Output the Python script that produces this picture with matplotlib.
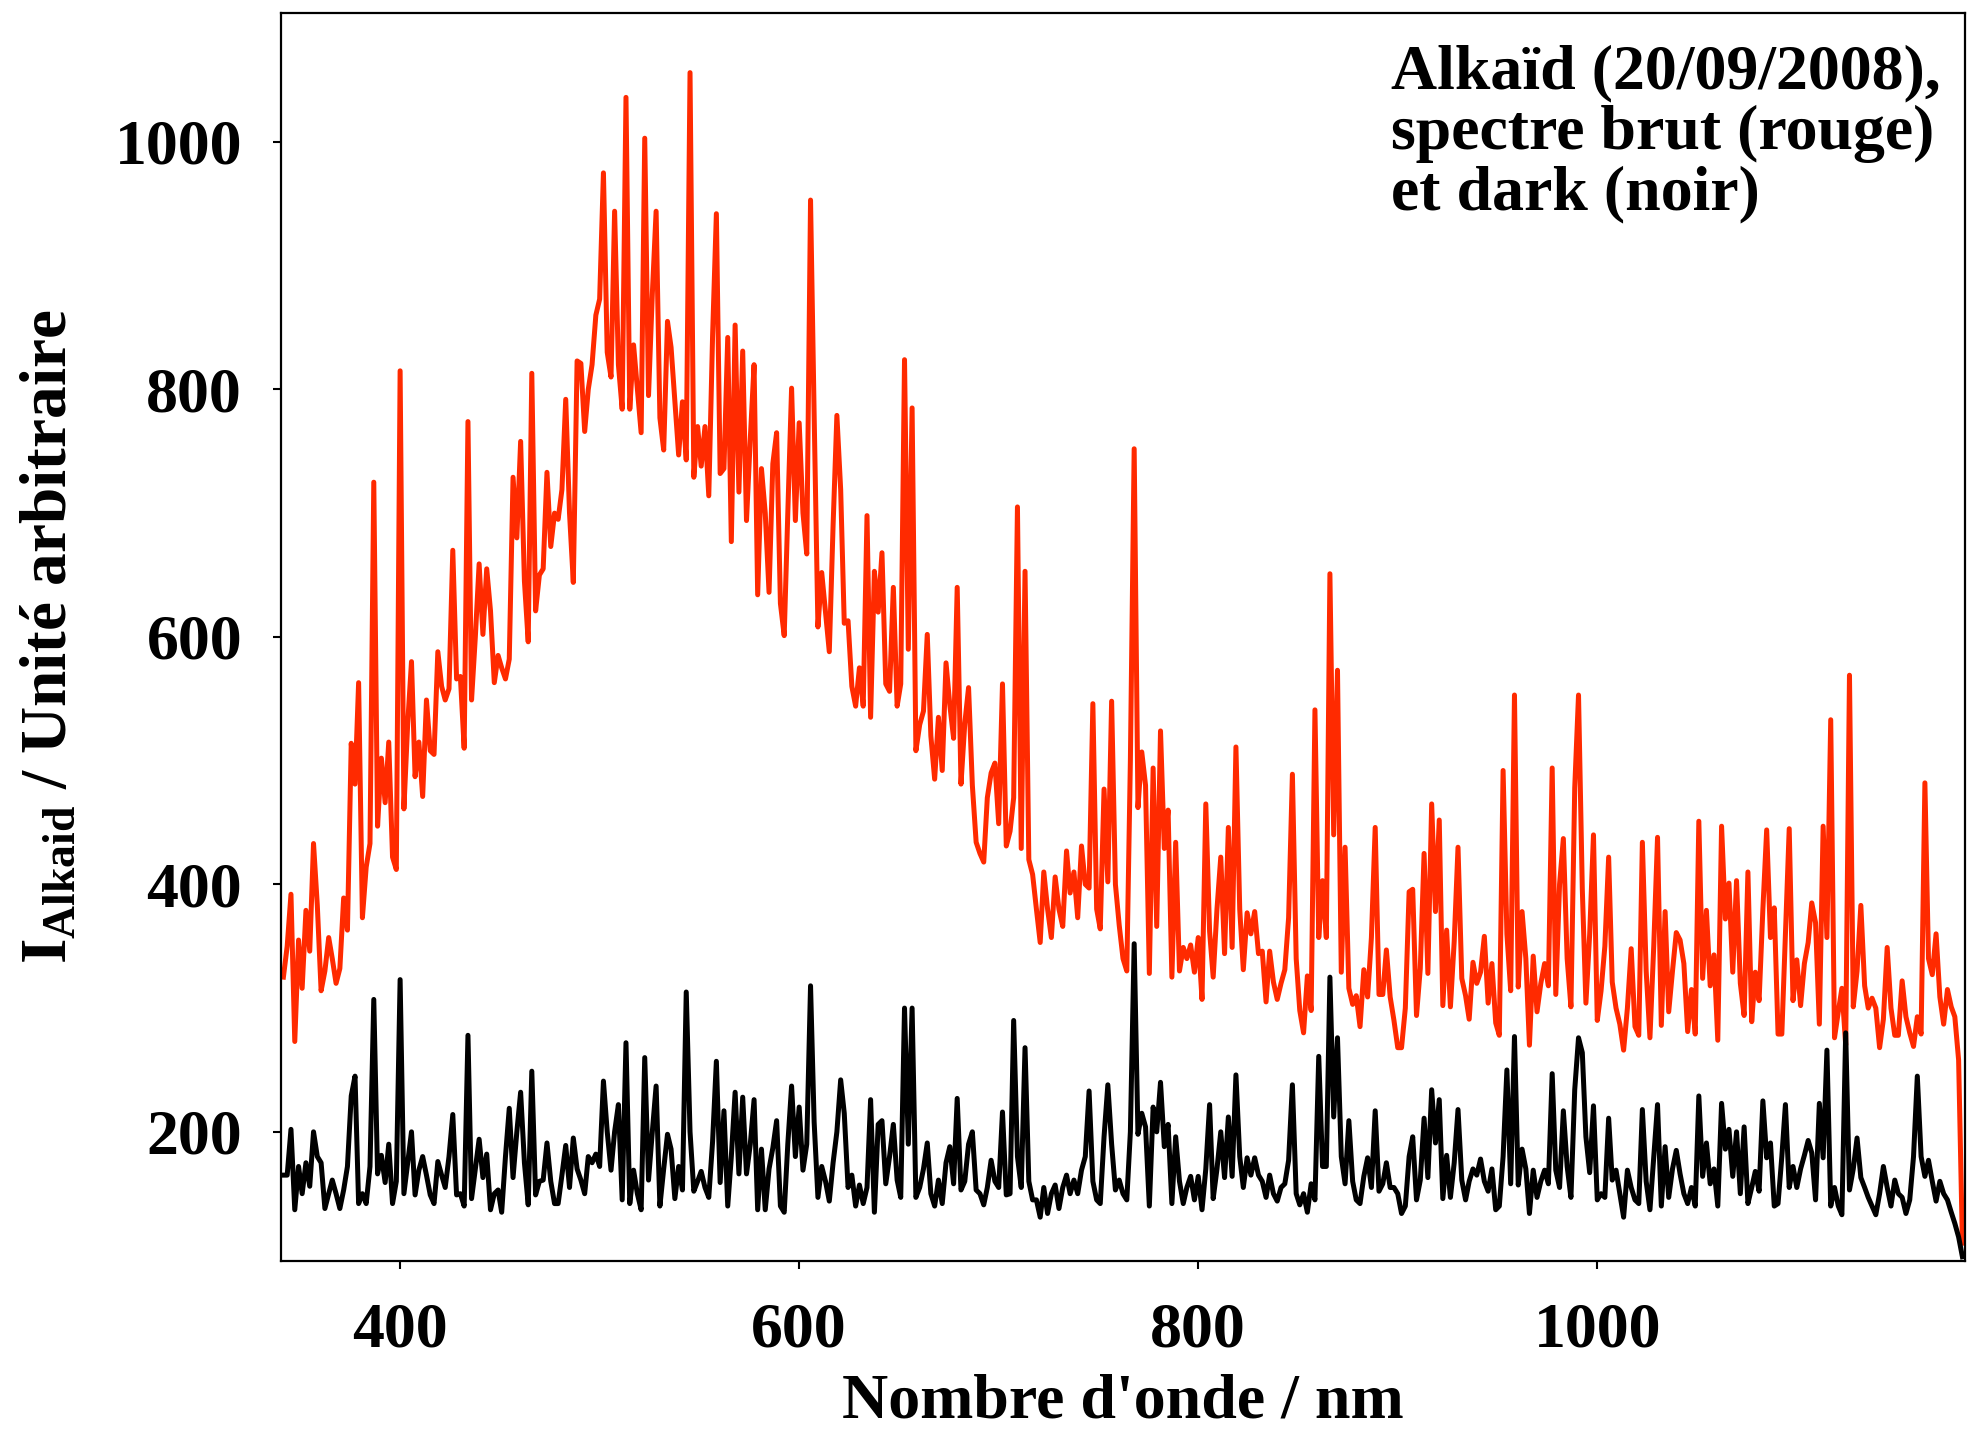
import matplotlib
matplotlib.use("Agg")
import matplotlib.pyplot as plt

plt.rcParams['font.family'] = ['Liberation Serif', 'DejaVu Serif']
plt.rcParams['font.weight'] = 'bold'
plt.rcParams['mathtext.fontset'] = 'custom'
plt.rcParams['mathtext.rm'] = 'Liberation Serif:bold'
plt.rcParams['mathtext.bf'] = 'Liberation Serif:bold'
plt.rcParams['mathtext.it'] = 'Liberation Serif:bold'

# Wavelength samples (nm)
wavelength_nm = [
    341.5, 343.4, 345.3, 347.2, 349.1, 350.9, 352.8, 354.7, 356.6, 358.5,
    360.4, 362.3, 364.2, 366.0, 367.9, 369.8, 371.7, 373.6, 375.5, 377.4,
    379.2, 381.1, 383.0, 384.9, 386.8, 388.7, 390.6, 392.5, 394.3, 396.2,
    398.1, 400.0, 401.9, 403.8, 405.7, 407.5, 409.4, 411.3, 413.2, 415.1,
    417.0, 418.9, 420.8, 422.6, 424.5, 426.4, 428.3, 430.2, 432.1, 434.0,
    435.8, 437.7, 439.6, 441.5, 443.4, 445.3, 447.2, 449.1, 450.9, 452.8,
    454.7, 456.6, 458.5, 460.4, 462.3, 464.2, 466.0, 467.9, 469.8, 471.7,
    473.6, 475.5, 477.4, 479.2, 481.1, 483.0, 484.9, 486.8, 488.7, 490.6,
    492.5, 494.3, 496.2, 498.1, 500.0, 501.9, 503.8, 505.7, 507.5, 509.4,
    511.3, 513.2, 515.1, 517.0, 518.9, 520.8, 522.6, 524.5, 526.4, 528.3,
    530.2, 532.1, 534.0, 535.8, 537.7, 539.6, 541.5, 543.4, 545.3, 547.2,
    549.1, 550.9, 552.8, 554.7, 556.6, 558.5, 560.4, 562.3, 564.2, 566.0,
    567.9, 569.8, 571.7, 573.6, 575.5, 577.4, 579.2, 581.1, 583.0, 584.9,
    586.8, 588.7, 590.6, 592.5, 594.3, 596.2, 598.1, 600.0, 601.9, 603.8,
    605.7, 607.5, 609.4, 611.3, 613.2, 615.1, 617.0, 618.9, 620.8, 622.6,
    624.5, 626.4, 628.3, 630.2, 632.1, 634.0, 635.8, 637.7, 639.6, 641.5,
    643.4, 645.3, 647.2, 649.1, 650.9, 652.8, 654.7, 656.6, 658.5, 660.4,
    662.3, 664.2, 666.0, 667.9, 669.8, 671.7, 673.6, 675.5, 677.4, 679.2,
    681.1, 683.0, 684.9, 686.8, 688.7, 690.6, 692.5, 694.3, 696.2, 698.1,
    700.0, 701.9, 703.8, 705.7, 707.5, 709.4, 711.3, 713.2, 715.1, 717.0,
    718.9, 720.8, 722.6, 724.5, 726.4, 728.3, 730.2, 732.1, 734.0, 735.8,
    737.7, 739.6, 741.5, 743.4, 745.3, 747.2, 749.1, 750.9, 752.8, 754.7,
    756.6, 758.5, 760.4, 762.3, 764.2, 766.0, 767.9, 769.8, 771.7, 773.6,
    775.5, 777.4, 779.2, 781.1, 783.0, 784.9, 786.8, 788.7, 790.6, 792.5,
    794.3, 796.2, 798.1, 800.0, 801.9, 803.8, 805.7, 807.5, 809.4, 811.3,
    813.2, 815.1, 817.0, 818.9, 820.8, 822.6, 824.5, 826.4, 828.3, 830.2,
    832.1, 834.0, 835.8, 837.7, 839.6, 841.5, 843.4, 845.3, 847.2, 849.1,
    850.9, 852.8, 854.7, 856.6, 858.5, 860.4, 862.3, 864.2, 866.0, 867.9,
    869.8, 871.7, 873.6, 875.5, 877.4, 879.2, 881.1, 883.0, 884.9, 886.8,
    888.7, 890.6, 892.5, 894.3, 896.2, 898.1, 900.0, 901.9, 903.8, 905.7,
    907.5, 909.4, 911.3, 913.2, 915.1, 917.0, 918.9, 920.8, 922.6, 924.5,
    926.4, 928.3, 930.2, 932.1, 934.0, 935.8, 937.7, 939.6, 941.5, 943.4,
    945.3, 947.2, 949.1, 950.9, 952.8, 954.7, 956.6, 958.5, 960.4, 962.3,
    964.2, 966.0, 967.9, 969.8, 971.7, 973.6, 975.5, 977.4, 979.2, 981.1,
    983.0, 984.9, 986.8, 988.7, 990.6, 992.5, 994.3, 996.2, 998.1, 1000.0,
    1001.9, 1003.8, 1005.7, 1007.5, 1009.4, 1011.3, 1013.2, 1015.1, 1017.0, 1018.9,
    1020.8, 1022.6, 1024.5, 1026.4, 1028.3, 1030.2, 1032.1, 1034.0, 1035.8, 1037.7,
    1039.6, 1041.5, 1043.4, 1045.3, 1047.2, 1049.1, 1050.9, 1052.8, 1054.7, 1056.6,
    1058.5, 1060.4, 1062.3, 1064.2, 1066.0, 1067.9, 1069.8, 1071.7, 1073.6, 1075.5,
    1077.4, 1079.2, 1081.1, 1083.0, 1084.9, 1086.8, 1088.7, 1090.6, 1092.5, 1094.3,
    1096.2, 1098.1, 1100.0, 1101.9, 1103.8, 1105.7, 1107.5, 1109.4, 1111.3, 1113.2,
    1115.1, 1117.0, 1118.9, 1120.8, 1122.6, 1124.5, 1126.4, 1128.3, 1130.2, 1132.1,
    1134.0, 1135.8, 1137.7, 1139.6, 1141.5, 1143.4, 1145.3, 1147.2, 1149.1, 1150.9,
    1152.8, 1154.7, 1156.6, 1158.5, 1160.4, 1162.3, 1164.2, 1166.0, 1167.9, 1169.8,
    1171.7, 1173.6, 1175.5, 1177.4, 1179.2, 1181.1, 1183.0,
]

# Raw spectrum (red)
spectre_brut = [
    325, 350, 392, 273, 355, 316, 379, 346, 433, 383,
    314, 330, 357, 340, 320, 332, 389, 363, 514, 481,
    563, 373, 414, 433, 725, 447, 502, 466, 515, 422,
    412, 815, 461, 530, 580, 487, 515, 471, 549, 508,
    505, 588, 560, 549, 558, 670, 566, 568, 510, 774,
    549, 600, 659, 602, 655, 621, 563, 585, 575, 566,
    582, 729, 680, 758, 645, 596, 813, 621, 650, 655,
    733, 673, 700, 695, 719, 792, 700, 644, 823, 821,
    766, 800, 820, 860, 873, 975, 830, 810, 944, 820,
    784, 1036, 784, 836, 800, 765, 1003, 795, 877, 944,
    777, 751, 855, 834, 790, 747, 790, 743, 1056, 729,
    770, 738, 770, 714, 843, 942, 732, 736, 842, 677,
    852, 717, 831, 694, 760, 820, 634, 736, 700, 636,
    740, 765, 627, 601, 700, 801, 694, 773, 700, 667,
    953, 780, 608, 652, 620, 588, 690, 779, 719, 611,
    613, 560, 544, 575, 544, 698, 535, 653, 620, 668,
    562, 556, 640, 544, 562, 824, 590, 785, 508, 529,
    540, 602, 520, 485, 535, 492, 579, 545, 518, 640,
    481, 530, 559, 480, 434, 425, 418, 470, 490, 498,
    449, 562, 431, 443, 470, 705, 429, 653, 420, 408,
    380, 353, 410, 380, 357, 406, 380, 366, 427, 393,
    410, 373, 431, 400, 397, 546, 380, 364, 477, 402,
    548, 400, 367, 340, 330, 500, 752, 462, 507, 480,
    328, 494, 366, 524, 429, 460, 325, 434, 330, 349,
    340, 351, 329, 357, 307, 465, 362, 325, 380, 422,
    344, 446, 349, 511, 380, 331, 377, 360, 378, 344,
    346, 305, 346, 321, 307, 320, 331, 373, 489, 340,
    298, 280, 326, 298, 541, 357, 403, 357, 651, 440,
    573, 329, 430, 316, 303, 310, 285, 331, 309, 357,
    446, 311, 311, 347, 309, 290, 268, 268, 300, 394,
    396, 294, 332, 425, 328, 465, 378, 452, 302, 363,
    301, 354, 430, 324, 310, 291, 337, 320, 329, 358,
    304, 336, 288, 278, 492, 360, 314, 553, 317, 378,
    340, 270, 342, 297, 320, 336, 318, 494, 311, 400,
    437, 340, 301, 478, 553, 396, 304, 360, 440, 290,
    314, 350, 422, 321, 300, 287, 266, 300, 348, 285,
    278, 434, 330, 276, 350, 438, 286, 378, 297, 330,
    361, 355, 336, 281, 315, 279, 451, 324, 379, 318,
    343, 274, 447, 372, 401, 329, 403, 320, 294, 410,
    289, 329, 306, 380, 444, 357, 381, 279, 279, 360,
    445, 306, 339, 302, 336, 353, 385, 369, 287, 447,
    357, 533, 276, 297, 316, 270, 569, 301, 330, 383,
    318, 300, 308, 300, 268, 291, 349, 300, 278, 278,
    322, 293, 280, 269, 293, 279, 482, 340, 327, 360,
    309, 287, 315, 301, 293, 258, 110,
]

# Dark spectrum (black)
dark = [
    165, 165, 202, 137, 172, 150, 175, 156, 200, 180,
    175, 138, 150, 161, 150, 138, 153, 172, 229, 245,
    142, 150, 142, 172, 307, 166, 181, 159, 190, 142,
    160, 323, 150, 175, 200, 149, 169, 180, 165, 149,
    142, 176, 165, 155, 180, 214, 149, 150, 140, 278,
    146, 170, 194, 163, 182, 137, 150, 153, 135, 180,
    219, 163, 200, 232, 175, 141, 249, 149, 160, 161,
    191, 160, 142, 142, 165, 189, 155, 195, 170, 161,
    150, 180, 175, 182, 172, 241, 200, 169, 200, 222,
    145, 272, 142, 169, 150, 137, 260, 161, 200, 237,
    140, 170, 198, 186, 146, 172, 153, 313, 200, 152,
    160, 168, 155, 147, 192, 257, 159, 217, 140, 180,
    232, 166, 228, 166, 190, 226, 137, 186, 137, 170,
    187, 209, 140, 135, 190, 237, 180, 220, 169, 190,
    318, 208, 147, 172, 160, 144, 175, 200, 242, 215,
    155, 165, 140, 157, 142, 155, 226, 135, 206, 209,
    158, 180, 206, 161, 147, 300, 190, 300, 147, 155,
    170, 191, 150, 140, 161, 142, 175, 188, 158, 227,
    153, 160, 190, 200, 153, 150, 141, 155, 177, 160,
    155, 216, 149, 150, 290, 180, 155, 268, 160, 145,
    145, 131, 155, 134, 150, 157, 138, 155, 165, 150,
    161, 150, 169, 180, 233, 160, 145, 142, 196, 238,
    190, 153, 161, 150, 145, 200, 352, 198, 215, 204,
    140, 220, 200, 240, 188, 206, 142, 196, 160, 142,
    155, 164, 145, 164, 137, 170, 222, 146, 170, 200,
    163, 212, 164, 246, 180, 155, 179, 165, 179, 165,
    160, 147, 165, 150, 144, 155, 158, 177, 238, 150,
    141, 150, 135, 158, 145, 261, 172, 172, 325, 212,
    276, 180, 158, 209, 160, 145, 142, 164, 179, 155,
    217, 152, 158, 175, 155, 155, 150, 134, 140, 180,
    196, 145, 161, 211, 163, 234, 191, 226, 146, 181,
    147, 175, 218, 161, 145, 160, 170, 165, 178, 160,
    152, 170, 137, 140, 180, 250, 158, 277, 157, 186,
    170, 134, 169, 147, 160, 169, 158, 247, 169, 155,
    217, 172, 147, 234, 276, 264, 196, 167, 221, 145,
    150, 147, 211, 161, 169, 150, 131, 169, 155, 145,
    142, 218, 160, 137, 180, 222, 140, 188, 147, 170,
    185, 166, 150, 142, 155, 140, 229, 164, 191, 158,
    170, 140, 223, 186, 202, 164, 200, 150, 204, 142,
    155, 168, 152, 225, 179, 191, 140, 142, 180, 222,
    155, 172, 155, 170, 181, 193, 183, 145, 223, 179,
    266, 140, 155, 140, 133, 280, 153, 170, 195, 163,
    155, 147, 140, 133, 150, 172, 155, 140, 161, 150,
    147, 134, 145, 180, 245, 180, 164, 177, 160, 144,
    160, 150, 145, 135, 126, 115, 99,
]

x_ticks = [400, 600, 800, 1000]
y_ticks = [200, 400, 600, 800, 1000]
annotation = "Alkaïd (20/09/2008),\nspectre brut (rouge)\net dark (noir)"

fig = plt.figure(figsize=(19.68, 14.32), dpi=100)
ax = fig.add_axes([281 / 1968, 1 - 1261 / 1432, (1965 - 281) / 1968, (1261 - 13) / 1432])

ax.plot(wavelength_nm, spectre_brut, color='#ff2a00', lw=3.6)
ax.plot(wavelength_nm, dark, color='black', lw=3.6)

ax.set_xlim(340.3, 1184.3)
ax.set_ylim(95.6, 1104.2)
ax.set_xticks(x_ticks)
ax.set_yticks(y_ticks)
ax.tick_params(direction='out', length=6, width=1.5, labelsize=46)
ax.tick_params(axis='x', pad=24)
ax.tick_params(axis='y', pad=22)
for lab in ax.get_xticklabels() + ax.get_yticklabels():
    lab.set_fontweight('bold')
for s in ax.spines.values():
    s.set_linewidth(1.6)

ax.set_xlabel("Nombre d'onde / nm", fontsize=46, fontweight='bold')
ax.xaxis.set_label_coords(0.5, -0.090)
ax.set_ylabel(r"I$_{\mathrm{Alkaid}}$ / Unité arbitraire", fontsize=47,
              fontweight='bold', va='center')
ax.yaxis.set_label_coords(-0.137, 0.5)

ax.text(0.659, 0.975, annotation, transform=ax.transAxes, ha='left', va='top',
        fontsize=46, fontweight='bold', linespacing=1.06)

fig.savefig("out.png", dpi=100)
